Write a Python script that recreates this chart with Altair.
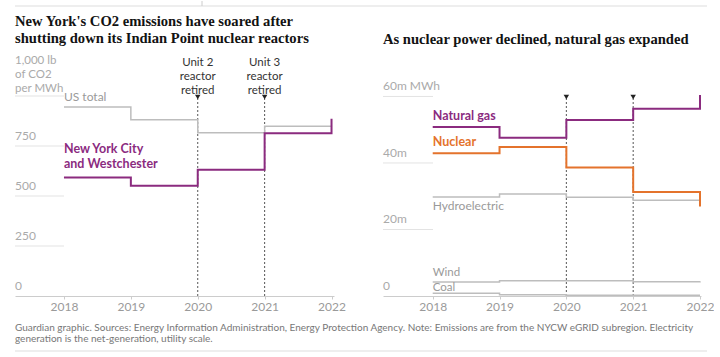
import altair as alt
import pandas as pd

# ---------------- data ----------------
years = [2018, 2019, 2020, 2021, 2022]
us_total = [945, 881, 816, 849, 849]
nyc_westchester = [593, 551, 631, 814, 886]
natural_gas = [50.8, 47.6, 52.9, 56.3, 60.4]
nuclear = [42.9, 44.8, 38.6, 31.3, 26.9]
hydroelectric = [29.8, 30.7, 29.7, 28.8, 28.8]
wind = [4.2, 4.6, 4.6, 4.3, 4.4]
coal = [0.8, 0.4, 0.2, 0.2, 0.2]
retired_years = [2020, 2021]
retired_notes = ["Unit 2\nreactor\nretired", "Unit 3\nreactor\nretired"]
left_ticks = [0, 250, 500, 750]
left_tick_labels = ["0", "250", "500", "750"]
left_unit_tick = [1000]
left_unit_label = ["1,000 lb\nof CO2\nper MWh"]
right_ticks = [0, 20, 40, 60]
right_tick_labels = ["0", "20m", "40m", "60m MWh"]

left_title = "New York's CO2 emissions have soared after\nshutting down its Indian Point nuclear reactors"
right_title = "As nuclear power declined, natural gas expanded"
footer = ("Guardian graphic. Sources: Energy Information Administration, Energy Protection Agency. "
          "Note: Emissions are from the NYCW eGRID subregion. Electricity\n"
          "generation is the net-generation, utility scale.")

# ---------------- style ----------------
PURPLE = "#8b2b7f"
ORANGE = "#e4732c"
GRAY_LINE = "#bdbdbd"
GRAY_TEXT = "#9a9a9a"
GRID = "#e3e3e3"
SANS = "Lato"
SERIF = "Liberation Serif"

H = 295
LW = 319
RW = 318

xl = alt.Scale(domain=[2017.268, 2022.037], nice=False, zero=False)
xr = alt.Scale(domain=[2017.256, 2022.015], nice=False, zero=False)
yl = alt.Scale(domain=[0, 1475], nice=False, zero=True)
yr = alt.Scale(domain=[0, 88.7], nice=False, zero=True)

x_axis = alt.Axis(values=years, format="d", labelFontSize=12, labelColor=GRAY_TEXT,
                  labelFont=SANS, tickColor="#cccccc", tickSize=3, domainColor="#cccccc",
                  grid=False, title=None, labelPadding=2)


def long_df(names, arrays):
    rows = []
    for n, arr in zip(names, arrays):
        for yr_, v in zip(years, arr):
            rows.append({"series": n, "year": yr_, "value": v})
    return pd.DataFrame(rows)


def X(scale):
    return alt.X("year:Q", scale=scale, axis=x_axis)


def Y(scale, field="value"):
    return alt.Y(f"{field}:Q", scale=scale, axis=None)


def panel(xs, ys, ticks, tick_labels, series_names, series_arrays, styles, labels,
          title_text, title_y, grid_x2, width, notes=True, unit=None):
    df = long_df(series_names, series_arrays)
    tick_df = pd.DataFrame({"v": ticks, "label": tick_labels})
    ret_df = pd.DataFrame({"year": retired_years, "note": retired_notes})

    layers = []
    grid_vals = [t for t in ticks if t > 0] + (unit[0] if unit else [])
    layers.append(
        alt.Chart(pd.DataFrame({"v": grid_vals})).mark_rule(color=GRID, strokeWidth=1)
        .encode(x=alt.value(0), x2=alt.value(grid_x2), y=Y(ys, "v"))
    )
    layers.append(
        alt.Chart(tick_df).mark_text(align="left", baseline="bottom", dy=-3, font=SANS,
                                      fontSize=12, color="#aaaaaa")
        .encode(x=alt.value(0), y=Y(ys, "v"), text="label:N")
    )
    if unit:
        udf = pd.DataFrame({"v": unit[0], "label": unit[1]})
        layers.append(
            alt.Chart(udf).mark_text(align="left", baseline="bottom", dy=-30, font=SANS,
                                     fontSize=11.5, color="#aaaaaa", lineBreak="\n", lineHeight=14)
            .encode(x=alt.value(0), y=Y(ys, "v"), text="label:N")
        )
    layers.append(
        alt.Chart(ret_df).mark_rule(color="#555555", strokeDash=[2, 2], strokeWidth=1)
        .encode(x=X(xs), y=alt.value(97), y2=alt.value(H))
    )
    layers.append(
        alt.Chart(ret_df).mark_point(shape="triangle-down", filled=True, color="#222222",
                                     size=30, opacity=1)
        .encode(x=X(xs), y=alt.value(96))
    )
    if notes:
        layers.append(
            alt.Chart(ret_df).mark_text(align="center", baseline="bottom", font=SANS, fontSize=11.5,
                                        color="#333333", lineBreak="\n", lineHeight=14)
            .encode(x=X(xs), y=alt.value(67), text="note:N")
        )
    for name, (color, sw) in styles.items():
        layers.append(
            alt.Chart(df).transform_filter(alt.datum.series == name)
            .mark_line(interpolate="step-after", color=color, strokeWidth=sw)
            .encode(x=X(xs), y=Y(ys))
        )
    for name, arr, color, bold, size, base, dy in labels:
        ldf = pd.DataFrame({"label": [name], "year": [years[0]], "value": [arr[0]]})
        layers.append(
            alt.Chart(ldf).mark_text(align="left", baseline=base, dy=dy, font=SANS,
                                     fontSize=size, fontWeight="bold" if bold else "normal",
                                     color=color, lineBreak="\n", lineHeight=15)
            .encode(x=X(xs), y=Y(ys), text="label:N")
        )
    tdf = pd.DataFrame({"t": [title_text]})
    layers.append(
        alt.Chart(tdf).mark_text(align="left", baseline="top", font=SERIF, fontSize=14.6,
                                 fontWeight="bold", color="#121212", lineBreak="\n", lineHeight=17)
        .encode(x=alt.value(0), y=alt.value(title_y), text="t:N")
    )
    return alt.layer(*layers).properties(width=width, height=H)


left = panel(
    xl, yl, left_ticks, left_tick_labels,
    ["US total", "New York City and Westchester"], [us_total, nyc_westchester],
    {"US total": (GRAY_LINE, 1.5), "New York City and Westchester": (PURPLE, 2)},
    [("US total", us_total, GRAY_TEXT, False, 12, "bottom", -3),
     ("New York City\nand Westchester", nyc_westchester, PURPLE, True, 12.5, "bottom", -21)],
    left_title, 13, 49, LW, notes=True, unit=(left_unit_tick, left_unit_label),
)

# frame rules and footer live in the left panel
frame_df = pd.DataFrame({"t": [footer]})
extras = alt.layer(
    alt.Chart(frame_df).mark_rule(color="#dddddd", strokeWidth=1)
    .encode(x=alt.value(0), x2=alt.value(692), y=alt.value(5)),
    alt.Chart(frame_df).mark_rule(color="#cccccc", strokeWidth=1)
    .encode(x=alt.value(187), y=alt.value(0), y2=alt.value(5)),
    alt.Chart(frame_df).mark_rule(color="#dddddd", strokeWidth=1)
    .encode(x=alt.value(0), x2=alt.value(692), y=alt.value(350)),
    alt.Chart(frame_df).mark_text(align="left", baseline="middle", font=SANS, fontSize=10,
                                  color="#777777", lineBreak="\n", lineHeight=11)
    .encode(x=alt.value(0), y=alt.value(327), text="t:N"),
)
left = alt.layer(left, extras).properties(width=LW, height=H)

right = panel(
    xr, yr, right_ticks, right_tick_labels,
    ["Hydroelectric", "Wind", "Coal", "Nuclear", "Natural gas"],
    [hydroelectric, wind, coal, nuclear, natural_gas],
    {"Hydroelectric": (GRAY_LINE, 1.5), "Wind": (GRAY_LINE, 1.5), "Coal": (GRAY_LINE, 1.5),
     "Nuclear": (ORANGE, 2), "Natural gas": (PURPLE, 2)},
    [("Natural gas", natural_gas, PURPLE, True, 12.5, "bottom", -4),
     ("Nuclear", nuclear, ORANGE, True, 12.5, "bottom", -4),
     ("Hydroelectric", hydroelectric, GRAY_TEXT, False, 12, "top", 4),
     ("Wind", wind, GRAY_TEXT, False, 11.5, "bottom", -4.5),
     ("Coal", coal, GRAY_TEXT, False, 11.5, "bottom", -0.5)],
    right_title, 31, 50, RW, notes=False,
)

chart = (
    alt.hconcat(left, right, spacing=49, bounds="flush")
    .properties(padding={"left": 14, "top": 0, "right": 0, "bottom": 0})
    .configure_view(stroke=None)
)

chart.save("out.html", embed_options={"renderer": "svg", "actions": False})
